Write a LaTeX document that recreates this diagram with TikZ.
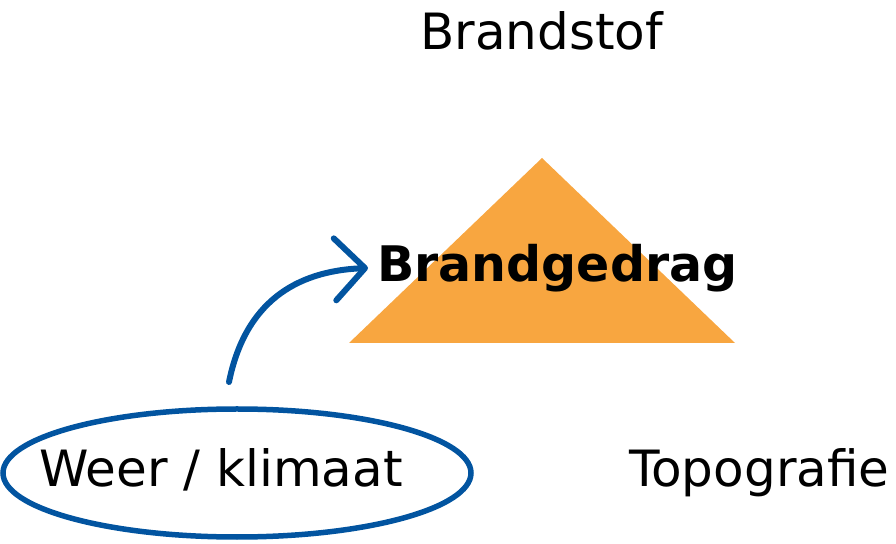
\documentclass[tikz,border=0pt]{standalone}
\usepackage{fontspec}
\setmainfont{DejaVu Sans}
\usetikzlibrary{shapes.geometric,arrows.meta}
\definecolor{fireorange}{HTML}{F8A640}
\definecolor{arrowblue}{HTML}{0254A0}
\tikzset{
  lbl/.style={inner sep=0pt, anchor=base west, font=\fontsize{50}{56}\selectfont},
  boldlbl/.style={lbl, font=\fontsize{49}{55}\selectfont\bfseries},
  ring/.style={draw=arrowblue, line width=5.5pt, ellipse, inner sep=0pt},
  bluearrow/.style={draw=arrowblue, line width=6pt, line cap=round,
    -{Straight Barb[length=30pt,width=62pt,line cap=round,line join=round]}}
}
\begin{document}
\begin{tikzpicture}[x=1pt,y=1pt]
\useasboundingbox (0,0) rectangle (896,543);
\fill[fireorange] (542,385) -- (735,200) -- (349,200) -- cycle;
\node[lbl] (fuel) at (420,493) {Brandstof};
\node[boldlbl] (behav) at (377,261) {Brandgedrag};
\node[lbl] (weather) at (39,56) {Weer / klimaat};
\node[lbl] (topo) at (629,56) {Topografie};
\node[ring, minimum width=468pt, minimum height=128pt] (ring) at (237,70) {};
\coordinate (start) at (229,161);
\coordinate (tip) at (368,275);
\draw[bluearrow] (start) .. controls (245,240) and (295,272) .. (tip);
\end{tikzpicture}
\end{document}
